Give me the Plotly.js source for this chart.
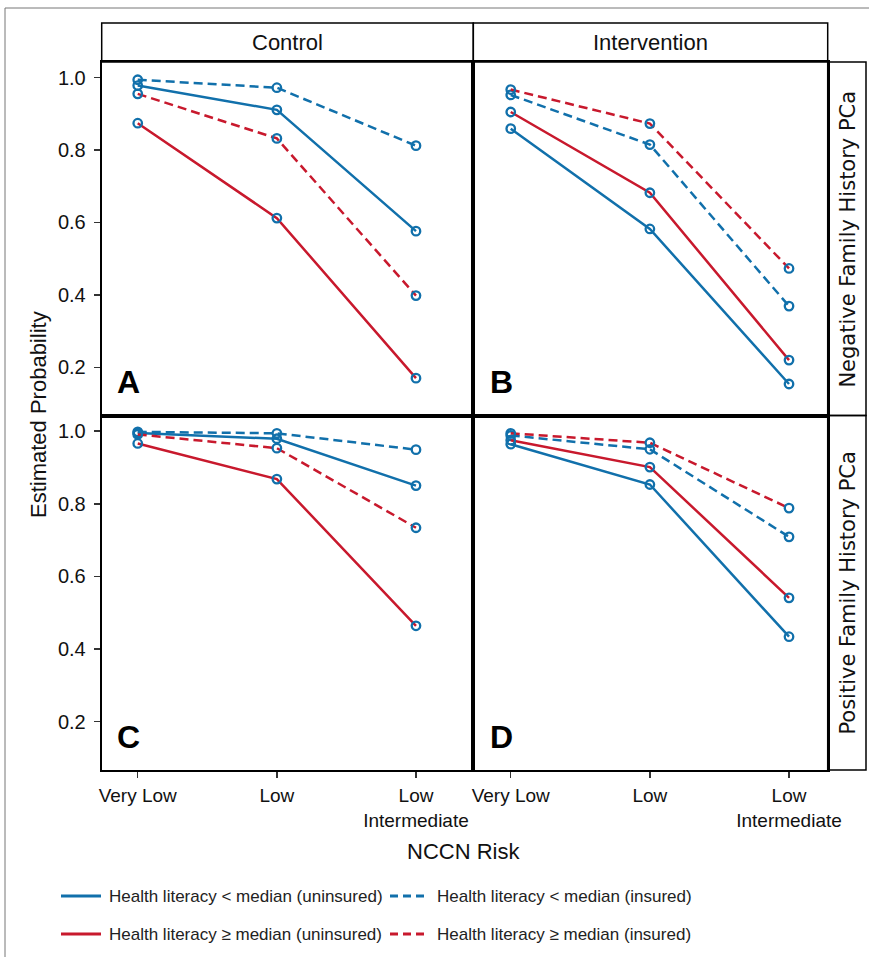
<!DOCTYPE html>
<html>
<head>
<meta charset="utf-8">
<script src="https://cdn.plot.ly/plotly-3.0.1.min.js"></script>
<style>html,body{margin:0;padding:0;background:#fff;}#chart{width:869px;height:957px;}</style>
</head>
<body>
<div id="chart"></div>
<script>
// ---------- DATA ----------
const riskLevels = ['Very Low', 'Low', 'Low<br>Intermediate'];
const armLabels = ['Control', 'Intervention'];
const historyLabels = ['Negative Family History PCa', 'Positive Family History PCa'];
const panelLetters = ['A', 'B', 'C', 'D'];
const seriesNames = [
  'Health literacy < median (uninsured)',
  'Health literacy < median (insured)',
  'Health literacy \u2265 median (uninsured)',
  'Health literacy \u2265 median (insured)'
];

// Panel A: Control, negative family history
const lowUninsuredA  = [0.978, 0.911, 0.576];
const lowInsuredA    = [0.994, 0.972, 0.812];
const highUninsuredA = [0.874, 0.612, 0.170];
const highInsuredA   = [0.955, 0.832, 0.398];
// Panel B: Intervention, negative family history
const lowUninsuredB  = [0.859, 0.582, 0.154];
const lowInsuredB    = [0.952, 0.815, 0.369];
const highUninsuredB = [0.905, 0.682, 0.220];
const highInsuredB   = [0.967, 0.873, 0.473];
// Panel C: Control, positive family history
const lowUninsuredC  = [0.995, 0.979, 0.850];
const lowInsuredC    = [0.998, 0.994, 0.949];
const highUninsuredC = [0.966, 0.868, 0.464];
const highInsuredC   = [0.991, 0.953, 0.734];
// Panel D: Intervention, positive family history
const lowUninsuredD  = [0.964, 0.853, 0.434];
const lowInsuredD    = [0.988, 0.950, 0.709];
const highUninsuredD = [0.975, 0.901, 0.541];
const highInsuredD   = [0.994, 0.968, 0.788];

const yTickVals = [0.2, 0.4, 0.6, 0.8, 1.0];

// ---------- STYLE ----------
const W = 869, H = 957;
const px = v => v / W;
const py = v => 1 - v / H;
const BLUE = '#1170ab';
const RED = '#c8192d';
const FONT = 'Liberation Sans, Arial, sans-serif';
const DASH = '9px,5px';

const seriesStyle = [
  {color: BLUE, dash: 'solid'},
  {color: BLUE, dash: DASH},
  {color: RED, dash: 'solid'},
  {color: RED, dash: DASH}
];

const panels = [
  {xa: 'x',  ya: 'y',  data: [lowUninsuredA, lowInsuredA, highUninsuredA, highInsuredA]},
  {xa: 'x2', ya: 'y2', data: [lowUninsuredB, lowInsuredB, highUninsuredB, highInsuredB]},
  {xa: 'x3', ya: 'y3', data: [lowUninsuredC, lowInsuredC, highUninsuredC, highInsuredC]},
  {xa: 'x4', ya: 'y4', data: [lowUninsuredD, lowInsuredD, highUninsuredD, highInsuredD]}
];

const traces = [];
panels.forEach(p => {
  p.data.forEach((vals, i) => {
    traces.push({
      type: 'scatter', mode: 'lines+markers',
      x: riskLevels, y: vals, xaxis: p.xa, yaxis: p.ya,
      name: seriesNames[i], showlegend: false,
      line: {color: seriesStyle[i].color, width: 2.5, dash: seriesStyle[i].dash},
      marker: {symbol: 'circle-open', size: 8.5, color: BLUE, line: {width: 2.3}},
      hoverinfo: 'skip'
    });
  });
});

// Geometry (pixels)
const L = 101.7, M = 473.3, R = 827.7;
const T = 62, MID = 415.5, B = 770;
const stripTop = 23, stripRight = 866;

const yRange = [0.067, 1.043];

function xax(domain, range, showLabels) {
  return {
    domain: domain, type: 'category', categoryarray: riskLevels, range: range,
    showline: true, mirror: true, linecolor: '#000', linewidth: 2,
    showgrid: false, zeroline: false,
    ticks: showLabels ? 'outside' : '', ticklen: 6, tickwidth: 1.5, tickcolor: '#333',
    showticklabels: showLabels, ticklabelstandoff: 1,
    tickfont: {family: FONT, size: 19, color: '#111'}
  };
}
function yax(domain, anchor, showLabels) {
  return {
    domain: domain, anchor: anchor, range: yRange,
    tickvals: yTickVals, tickformat: '.1f',
    showline: true, mirror: true, linecolor: '#000', linewidth: 2,
    showgrid: false, zeroline: false,
    ticks: showLabels ? 'outside' : '', ticklen: 6, tickwidth: 1.5, tickcolor: '#333',
    showticklabels: showLabels, ticklabelstandoff: 4,
    tickfont: {family: FONT, size: 20, color: '#111'}
  };
}

const xLeft = [px(L), px(M)], xRight = [px(M), px(R)];
const yTop = [py(MID), py(T)], yBot = [py(B), py(MID)];
const rangeLeft = [-0.259, 2.412], rangeRight = [-0.269, 2.278];

const shapes = [];
const annotations = [];

// outer frame
shapes.push({type: 'rect', xref: 'paper', yref: 'paper', x0: px(5), x1: px(880), y0: py(970), y1: py(8),
  line: {color: '#777', width: 1}});

// top strips
[[L, M], [M, R]].forEach((s, i) => {
  shapes.push({type: 'rect', xref: 'paper', yref: 'paper', x0: px(s[0]), x1: px(s[1]), y0: py(T), y1: py(stripTop),
    line: {color: '#000', width: 1.5}});
  annotations.push({xref: 'paper', yref: 'paper', x: px((s[0] + s[1]) / 2), y: py((T + stripTop) / 2),
    text: armLabels[i], showarrow: false, xanchor: 'center', yanchor: 'middle',
    font: {family: FONT, size: 22, color: '#111'}});
});
// right strips
[[T, MID], [MID, B]].forEach((s, i) => {
  shapes.push({type: 'rect', xref: 'paper', yref: 'paper', x0: px(R), x1: px(stripRight), y0: py(s[1]), y1: py(s[0]),
    line: {color: '#000', width: 1.5}});
  annotations.push({xref: 'paper', yref: 'paper', x: px((R + stripRight) / 2 + 1), y: py((s[0] + s[1]) / 2),
    text: historyLabels[i], showarrow: false, textangle: -90, xanchor: 'center', yanchor: 'middle',
    font: {family: 'DejaVu Sans, sans-serif', size: 21, color: '#111'}});
});

// panel letters
[[117, 382], [490, 382], [117, 737], [490, 737]].forEach((p, i) => {
  annotations.push({xref: 'paper', yref: 'paper', x: px(p[0] - 2), y: py(p[1]),
    text: '<b>' + panelLetters[i] + '</b>', showarrow: false, xanchor: 'left', yanchor: 'middle',
    font: {family: FONT, size: 32, color: '#000'}});
});

// axis titles
annotations.push({xref: 'paper', yref: 'paper', x: px(464), y: py(851), text: 'NCCN Risk',
  showarrow: false, xanchor: 'center', yanchor: 'middle', font: {family: FONT, size: 22, color: '#111'}});
annotations.push({xref: 'paper', yref: 'paper', x: px(38), y: py(415), text: 'Estimated Probability',
  showarrow: false, textangle: -90, xanchor: 'center', yanchor: 'middle', font: {family: FONT, size: 22, color: '#111'}});

// legend (drawn manually)
const legendPos = [
  {x0: 61, x1: 101, y: 896, tx: 107},
  {x0: 390, x1: 425, y: 896, tx: 435},
  {x0: 61, x1: 101, y: 934, tx: 107},
  {x0: 390, x1: 425, y: 934, tx: 435}
];
legendPos.forEach((g, i) => {
  shapes.push({type: 'line', xref: 'paper', yref: 'paper', x0: px(g.x0), x1: px(g.x1), y0: py(g.y), y1: py(g.y),
    line: {color: seriesStyle[i].color, width: 3, dash: seriesStyle[i].dash === 'solid' ? 'solid' : '8px,5px'}});
  annotations.push({xref: 'paper', yref: 'paper', x: px(g.tx), y: py(g.y), text: seriesNames[i].replace('<', '&lt;'),
    showarrow: false, xanchor: 'left', yanchor: 'middle', font: {family: FONT, size: 17, color: '#222'}});
});

const layout = {
  width: W, height: H,
  margin: {l: 0, r: 0, t: 0, b: 0},
  paper_bgcolor: '#fff', plot_bgcolor: '#fff',
  showlegend: false,
  xaxis:  Object.assign(xax(xLeft, rangeLeft, false),  {anchor: 'y'}),
  xaxis2: Object.assign(xax(xRight, rangeRight, false), {anchor: 'y2'}),
  xaxis3: Object.assign(xax(xLeft, rangeLeft, true),   {anchor: 'y3'}),
  xaxis4: Object.assign(xax(xRight, rangeRight, true),  {anchor: 'y4'}),
  yaxis:  yax(yTop, 'x', true),
  yaxis2: yax(yTop, 'x2', false),
  yaxis3: yax(yBot, 'x3', true),
  yaxis4: yax(yBot, 'x4', false),
  shapes: shapes,
  annotations: annotations
};

Plotly.newPlot('chart', traces, layout, {displayModeBar: false, staticPlot: true});
</script>
</body>
</html>
